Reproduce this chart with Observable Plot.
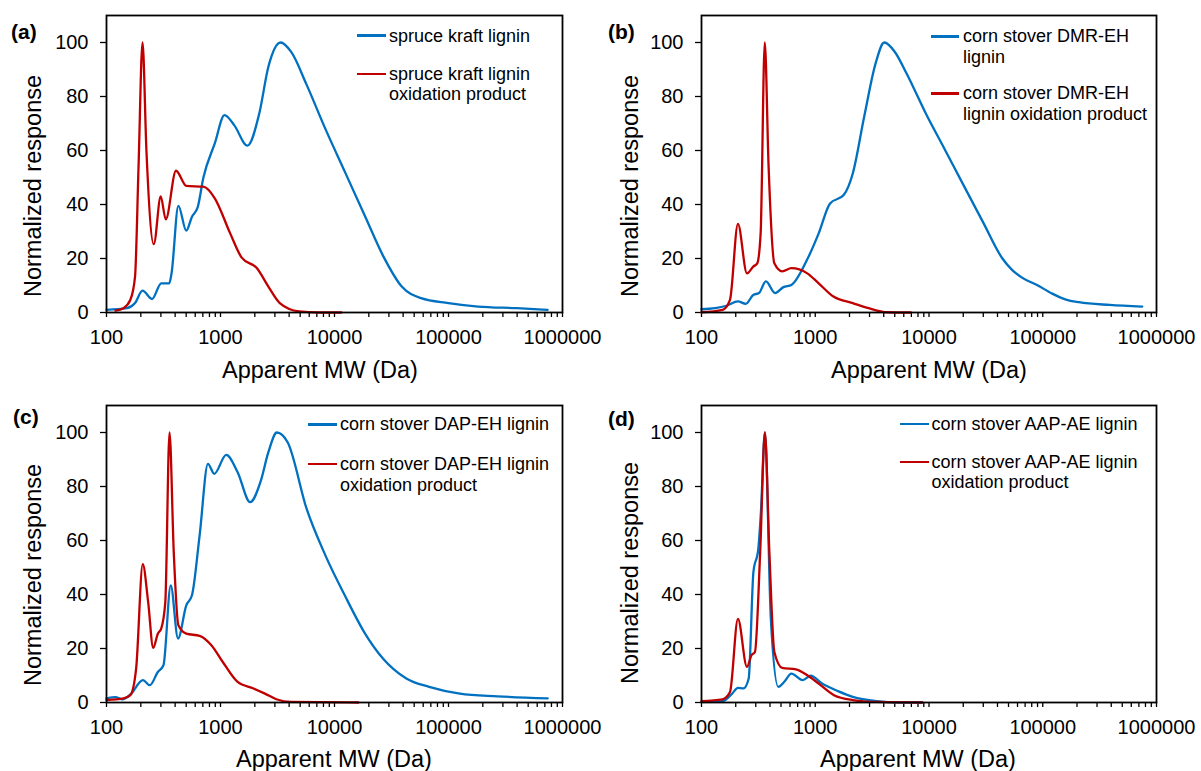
<!DOCTYPE html>
<html><head><meta charset="utf-8">
<script src="https://cdn.jsdelivr.net/npm/d3@7"></script>
<script src="https://cdn.jsdelivr.net/npm/@observablehq/plot@0.6"></script>
<style>
body{margin:0;background:#fff;font-family:"Liberation Sans",Arial,sans-serif;}
#root{position:relative;width:1201px;height:771px;overflow:hidden;background:#fff;}
.panel{position:absolute;}
.lbl{position:absolute;white-space:nowrap;color:#000;}
.ytitle{transform:translate(-50%,-50%) rotate(-90deg);font-size:23.5px;}
.xtitle{transform:translate(-50%,-50%);font-size:23.5px;}
.plab{font-weight:bold;font-size:21px;transform:translateY(-50%);}
.legline{position:absolute;height:2.5px;}
.legtext{position:absolute;font-size:18px;white-space:nowrap;color:#000;}
</style></head><body><div id="root"></div><script>
// ---- data (MW in Da, normalized response) ----
const majorTicks = [100, 1000, 10000, 100000, 1000000];
const yTicks = [0, 20, 40, 60, 80, 100];

const aBlueMW = [100,151,178,207,251,302,355,372,427,501,562,631,708,891,1084,1318,1722,2188,2630,3365,4169,5689,8318,12300,18200,26900,38900,57500,100000,182000,398000,741000];
const aBlueY  = [1,1.6,3.5,8.1,5,10.8,10.8,14.5,39.5,30.3,35.5,39,50,62.6,73.1,69.4,61.8,73.7,91,100,96.5,84.4,68,52.2,36.4,20.7,9.6,5.3,3.5,2.2,1.6,1.0];
const aRedMW  = [120,141,162,178,191,207,224,260,299,331,407,501,708,891,1216,1535,2089,2630,3311,4898,7244,11482];
const aRedY   = [0.7,1.6,4.7,13.3,54,100,60,25.3,43,34.5,52.5,46.9,46.6,42.3,29.3,20.3,16.4,9.6,3.5,0.4,0,0];

const bBlueMW = [100,132,166,209,245,285,320,368,444,525,617,851,1072,1349,1778,2138,2692,3388,4046,5012,6353,9354,13800,20320,29990,44190,53700,65160,88900,121100,160000,208300,388000,750000];
const bBlueY  = [1.2,1.6,2.5,4.1,3.2,6.5,7.2,11.5,7.2,9.4,10.2,19.7,29.3,40.4,43.5,51.5,72.5,92.2,100,96.5,88.5,73.8,60.3,46.8,33.3,20,15.8,13,10.2,7,4.8,3.8,2.8,2.2];
const bRedMW  = [100,153,178,209,251,285,309,331,360,389,437,513,617,851,1072,1445,2138,2951,4266,6918];
const bRedY   = [0.1,1,4.7,32.8,14.5,17,18.2,29.3,100,54,18.2,15.2,16.4,14.5,10.8,5.9,3.5,1.6,0.1,0];

const cBlueMW = [100,120,138,162,209,240,282,316,366,424,501,562,656,776,881,1122,1413,1820,2239,2630,3119,3890,5689,8318,12300,18200,26600,42660,67600,125900,269000,741000];
const cBlueY  = [1.5,2,1.2,3,8.3,6.4,11.3,13.8,43.4,23.7,36,39.7,61.9,88.4,84.7,91.7,85.3,74.2,81.6,92.7,100,96.3,71.8,54.5,39.7,26.1,16.3,8.9,5.8,3.3,2.3,1.5];
const cRedMW  = [100,141,162,182,208,232,257,282,302,328,357,389,427,501,656,832,1047,1413,1950,2455,3090,4169,16220];
const cRedY   = [0.9,1.5,2.7,12.6,51.2,37.2,20.2,25.5,27.4,37.2,100,55.7,28.6,25.5,24.7,21.2,15,7.6,5.2,3.3,1.2,0.2,0];

const dBlueMW = [100,153,186,209,234,260,286,316,333,361,407,473,532,617,776,912,1148,1585,2138,3467,5495,8710];
const dBlueY  = [0.2,0.5,3.3,5.4,5.2,8.9,48.3,57,70.5,100,31,5.8,7.6,10.7,8.3,9.9,7,4.2,2.1,0.5,0,0];
const dRedMW  = [100,153,178,209,251,275,295,328,361,395,437,513,676,851,1072,1462,2138,3467,8710];
const dRedY   = [0.5,1.2,3.9,31,13.2,17.5,18.7,55.7,100,55.7,18.7,12.8,12.3,10.1,7,2.7,0.9,0.2,0];

const panelLabels = ["(a)", "(b)", "(c)", "(d)"];
const blueNames = ["spruce kraft lignin", "corn stover DMR-EH<br>lignin", "corn stover DAP-EH lignin", "corn stover AAP-AE lignin"];
const redNames = ["spruce kraft lignin<br>oxidation product", "corn stover DMR-EH<br>lignin oxidation product", "corn stover DAP-EH lignin<br>oxidation product", "corn stover AAP-AE lignin<br>oxidation product"];
const xTitle = "Apparent MW (Da)";
const yTitle = "Normalized response";

const BLUE = "#0070C0", RED = "#C00000";

const minorTicks = [];
for (const dec of [100, 1000, 10000, 100000]) for (let k = 2; k <= 9; k++) minorTicks.push(dec * k);

const root = document.getElementById("root");

function zip(mw, y) { return mw.map((m, i) => ({mw: m, v: y[i]})); }

function makePanel(p) {
  const svg = Plot.plot({
    width: 600, height: 385,
    marginLeft: 106, marginRight: p.mr, marginTop: 15, marginBottom: 73,
    x: {type: "log", domain: [100, 1000000]},
    y: {domain: [0, 110]},
    style: {fontFamily: "'Liberation Sans', Arial, sans-serif", fontSize: "20px", color: "#000", background: "transparent", overflow: "visible"},
    marks: [
      Plot.axisX({ticks: minorTicks, tickSize: 5, tickFormat: () => "", label: null, strokeWidth: 1.3}),
      Plot.axisX({ticks: majorTicks, tickSize: 5, tickPadding: 12, tickFormat: d => String(d), label: null, fontSize: 20, strokeWidth: 1.3}),
      Plot.axisY({ticks: yTicks, tickSize: 6, tickPadding: 12, label: null, fontSize: 20, strokeWidth: 1.3}),
      Plot.line(zip(p.bMW, p.bY), {x: "mw", y: "v", stroke: BLUE, strokeWidth: 2.3, curve: "monotone-x"}),
      Plot.line(zip(p.rMW, p.rY), {x: "mw", y: "v", stroke: RED, strokeWidth: 2.3, curve: "monotone-x"}),
      Plot.frame({stroke: "#000", strokeWidth: 1.8})
    ]
  });
  const wrap = document.createElement("div");
  wrap.className = "panel";
  wrap.style.left = p.left + "px";
  wrap.style.top = p.top + "px";
  wrap.appendChild(svg);
  root.appendChild(wrap);

  addText("lbl plab", panelLabels[p.i], p.plx, p.ply);
  addText("lbl xtitle", xTitle, p.xtx, p.xty);
  addText("lbl ytitle", yTitle, p.ytx, p.yty);
  addLegend(p.lx0, p.lx1, p.tx, p.ly1, p.lh, BLUE, blueNames[p.i]);
  addLegend(p.lx0, p.lx1, p.tx, p.ly2, p.lh, RED, redNames[p.i]);
}

function addText(cls, txt, x, y) {
  const d = document.createElement("div");
  d.className = cls;
  d.textContent = txt;
  d.style.left = x + "px";
  d.style.top = y + "px";
  root.appendChild(d);
}

function addLegend(x0, x1, tx, yc, lh, color, html) {
  const l = document.createElement("div");
  l.className = "legline";
  l.style.left = x0 + "px";
  l.style.width = (x1 - x0) + "px";
  l.style.top = (yc - 1.25) + "px";
  l.style.background = color;
  root.appendChild(l);
  const t = document.createElement("div");
  t.className = "legtext";
  t.style.left = tx + "px";
  t.style.top = (yc - lh / 2) + "px";
  t.style.lineHeight = lh + "px";
  t.innerHTML = html;
  root.appendChild(t);
}

makePanel({i: 0, left: 0, top: 0, mr: 38, bMW: aBlueMW, bY: aBlueY, rMW: aRedMW, rY: aRedY,
  plx: 11, ply: 32, xtx: 320, xty: 370, ytx: 33, yty: 186,
  lx0: 356.5, lx1: 385.5, tx: 389, ly1: 35.7, ly2: 74, lh: 20});
makePanel({i: 1, left: 595, top: 0, mr: 39, bMW: bBlueMW, bY: bBlueY, rMW: bRedMW, rY: bRedY,
  plx: 608, ply: 32, xtx: 929, xty: 370, ytx: 630, yty: 186,
  lx0: 931, lx1: 959, tx: 963, ly1: 36.7, ly2: 93.3, lh: 20.6});
makePanel({i: 2, left: 0, top: 390, mr: 38, bMW: cBlueMW, bY: cBlueY, rMW: cRedMW, rY: cRedY,
  plx: 13, ply: 416.7, xtx: 334, xty: 759, ytx: 33, yty: 574.5,
  lx0: 308, lx1: 337, tx: 340, ly1: 424.3, ly2: 464, lh: 21});
makePanel({i: 3, left: 595, top: 390, mr: 39, bMW: dBlueMW, bY: dBlueY, rMW: dRedMW, rY: dRedY,
  plx: 608, ply: 419, xtx: 918, xty: 759, ytx: 630, yty: 573,
  lx0: 900, lx1: 928.5, tx: 931.5, ly1: 424, ly2: 462, lh: 20.7});
</script></body></html>
